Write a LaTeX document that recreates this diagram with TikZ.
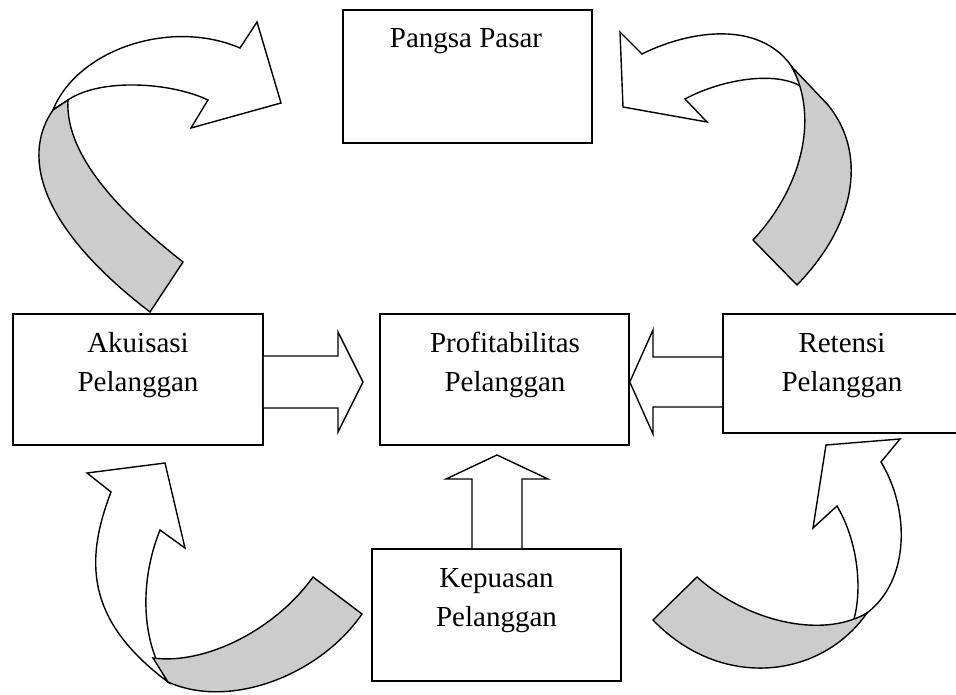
\documentclass[tikz,border=0pt]{standalone}
\usepackage{fontspec}
\setmainfont{Liberation Serif}
\definecolor{ribbon}{RGB}{204,204,204}
\begin{document}
\begin{tikzpicture}[x=1pt,y=-1pt,line width=1.4pt,
  box/.style={draw,line width=1.6pt,inner sep=0pt,fill=white},
  lbl/.style={anchor=base,inner sep=0pt,font=\fontsize{29}{35}\selectfont},
  blockarrow/.style={draw,fill=white,line width=1.4pt},
  ribbonwhite/.style={draw,fill=white,line width=1.4pt},
  ribbongrey/.style={draw,fill=ribbon,line width=1.4pt}]
\useasboundingbox (0,0) rectangle (956,695);

% boxes
\node[box,minimum width=250pt,minimum height=131pt] (aku) at (138,379.5) {};
\node[box,minimum width=249pt,minimum height=131pt] (prof) at (504.5,379.5) {};
\node[box,minimum width=237pt,minimum height=119pt] (ret) at (841.5,373.5) {};
\node[box,minimum width=249pt,minimum height=132pt] (kep) at (496.5,615) {};
\node[box,minimum width=249pt,minimum height=133pt] (pan) at (467.5,76.5) {};

% texts
\node[lbl] (panA) at (466,48) {Pangsa Pasar};
\node[lbl] (akuA) at (138,352) {Akuisasi};
\node[lbl] (akuB) at (138,391) {Pelanggan};
\node[lbl] (profA) at (505,352) {Profitabilitas};
\node[lbl] (profB) at (505,391) {Pelanggan};
\node[lbl] (retA) at (842,352) {Retensi};
\node[lbl] (retB) at (842,391) {Pelanggan};
\node[lbl] (kepA) at (496.5,587) {Kepuasan};
\node[lbl] (kepB) at (496.5,626) {Pelanggan};

% straight block arrows
\draw[blockarrow] (aku.east |- 0,356) -- (338,356) -- (338,332) -- (363,382)
  -- (338,432) -- (338,408) -- (aku.east |- 0,408);
\draw[blockarrow] (ret.west |- 0,357) -- (653,357) -- (653,330) -- (prof.east |- 0,382)
  -- (653,434) -- (653,407) -- (ret.west |- 0,407);
\draw[blockarrow] (kep.north -| 472,0) -- (472,479) -- (446,479) -- (497,455)
  -- (548,479) -- (522,479) -- (kep.north -| 522,0);

% top-left curved arrow
\draw[ribbonwhite] (53,110) .. controls (77,50) and (170,18) .. (240,48) -- (257,22)
  -- (281,103) -- (191,128) -- (208,100) .. controls (170,82) and (100,78) .. (68,100) -- cycle;
\draw[ribbongrey] (53,110) .. controls (25,150) and (30,220) .. (150,312) -- (183,262)
  .. controls (110,205) and (65,150) .. (68,100) -- cycle;

% top-right curved arrow
\draw[ribbonwhite] (642,54) -- (620,32) -- (623,107) -- (707,122) -- (685,99)
  .. controls (720,80) and (775,70) .. (802,87) -- (792,67)
  .. controls (760,20) and (690,30) .. (642,54) -- cycle;
\draw[ribbongrey] (792,67) -- (828,105) .. controls (865,150) and (860,220) .. (797,285)
  -- (753,240) .. controls (800,190) and (820,120) .. (792,67) -- cycle;

% bottom-left curved arrow
\draw[ribbonwhite] (111,492) -- (87,473) -- (165,463) -- (185,548) -- (160,530)
  .. controls (140,580) and (140,640) .. (168,682)
  .. controls (85,620) and (85,560) .. (111,492) -- cycle;
\draw[ribbongrey] (153,658) .. controls (205,665) and (275,630) .. (313,577) -- (362,614)
  .. controls (320,675) and (230,710) .. (168,682) -- cycle;

% bottom-right curved arrow
\draw[ribbonwhite] (881,462) -- (900,439) -- (826,445) -- (813,528) -- (837,506)
  .. controls (860,545) and (862,595) .. (853,622) -- (867,613)
  .. controls (910,580) and (910,510) .. (881,462) -- cycle;
\draw[ribbongrey] (697,577) .. controls (745,620) and (820,640) .. (867,613)
  .. controls (820,680) and (720,690) .. (653,620) -- cycle;
\end{tikzpicture}
\end{document}
